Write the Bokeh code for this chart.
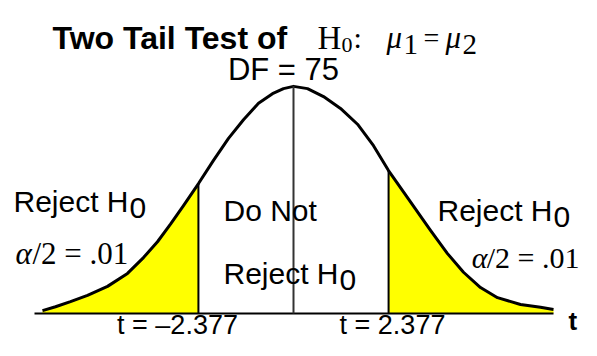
import numpy as np
from bokeh.plotting import figure
from bokeh.models import Range1d, Label
from bokeh.embed import file_html
from bokeh.resources import INLINE

# Curve (t units, relative density)
t_vals = [-6.275, -5.95, -5.575, -5.15, -4.65, -4.15, -3.75, -3.40, -3.075, -2.75,
          -2.375, -2.00, -1.625, -1.25, -0.875, -0.525, -0.25, 0.0, 0.35, 0.75,
          1.175, 1.60, 2.00, 2.375, 2.85, 3.425, 3.85, 4.25, 4.675, 5.10,
          5.675, 6.175, 6.50]
dens_vals = [0.005, 0.012, 0.021, 0.032, 0.048, 0.071, 0.099, 0.127, 0.158, 0.191,
             0.230, 0.271, 0.310, 0.343, 0.372, 0.389, 0.398, 0.402, 0.398, 0.384,
             0.363, 0.335, 0.297, 0.253, 0.205, 0.147, 0.106, 0.073, 0.046, 0.028,
             0.016, 0.011, 0.007]
t_crit = 2.377
df = 75
axis_start, axis_end = -6.475, 6.5

t = np.array(t_vals)
d = np.array(dens_vals)

W, H = 581, 340
XPX, YPX = 40.0, 565.0           # pixels per data unit
X_ORIGIN, Y_ORIGIN = 293, 313     # canvas pixel of t=0, density=0
x_lo = (0 - X_ORIGIN) / XPX
x_hi = (W - X_ORIGIN) / XPX
y_hi = (Y_ORIGIN - 0) / YPX
y_lo = (Y_ORIGIN - H) / YPX

p = figure(width=W, height=H, output_backend="svg", toolbar_location=None,
           x_range=Range1d(x_lo, x_hi), y_range=Range1d(y_lo, y_hi),
           x_axis_location=None, y_axis_location=None, min_border=0)
p.grid.visible = False
p.outline_line_color = None
p.background_fill_color = "white"
p.border_fill_color = "white"

yl = float(np.interp(-t_crit, t, d))
yr = float(np.interp(t_crit, t, d))
ypk = float(np.interp(0.0, t, d))

# shaded tails
mL = t <= -t_crit
xs_l = list(t[mL]) + [-t_crit, -t_crit, t[0]]
ys_l = list(d[mL]) + [yl, 0.0, 0.0]
mR = t >= t_crit
xs_r = [t_crit] + list(t[mR]) + [t[-1], t_crit]
ys_r = [yr] + list(d[mR]) + [0.0, 0.0]
p.patch(xs_l, ys_l, fill_color="#ffff00", line_color=None)
p.patch(xs_r, ys_r, fill_color="#ffff00", line_color=None)

# baseline, curve, vertical lines
p.line([axis_start, axis_end], [0, 0], line_color="black", line_width=2)
p.line(t, d, line_color="black", line_width=3, line_join="round")
p.segment(x0=[-t_crit, t_crit], y0=[0, 0], x1=[-t_crit, t_crit], y1=[yl, yr],
          line_color="black", line_width=2)
p.segment(x0=[0], y0=[0], x1=[0], y1=[ypk], line_color="#333333", line_width=2)

SANS = "Liberation Sans"
SERIF = "Liberation Serif"

def lab(text, px, py, size, font=SANS, style="normal", align="left", base="alphabetic"):
    p.add_layout(Label(x=(px - X_ORIGIN) / XPX, y=(Y_ORIGIN - py) / YPX,
                       text=text, text_font=font, text_font_size=f"{size}px",
                       text_font_style=style, text_align=align,
                       text_baseline=base, text_color="black"))

# title
lab("Two Tail Test of", 52, 37, 32, style="bold")
lab("H", 317, 37, 33, font=SERIF)
lab("0", 341, 44, 22, font=SERIF)
lab(":", 353, 37, 30, font=SERIF)
lab("μ", 386, 37, 31, font=SERIF, style="italic")
lab("1", 403, 44, 29, font=SERIF)
lab("=", 423, 37, 28, font=SERIF)
lab("μ", 445, 37, 31, font=SERIF, style="italic")
lab("2", 462, 44, 29, font=SERIF)
lab(f"DF = {df}", 283, 69, 31, align="center")

# region labels
lab("Reject H", 13, 201, 30)
lab("0", 129, 207, 30)
lab("α", 15, 253, 31, font=SERIF, style="italic")
lab("/2 = .01", 32, 253, 31, font=SERIF)

lab("Do Not", 223, 210, 30)
lab("Reject H", 223, 273, 30)
lab("0", 339, 279, 30)

lab("Reject H", 437, 210, 30)
lab("0", 553, 216, 30)
lab("/2 = .01", 579, 257, 30, font=SERIF, align="right")
lab("α", 487, 257, 30, font=SERIF, style="italic", align="right")

lab(f"t = \u2013{t_crit}", 177, 339, 27, align="center", base="bottom")
lab(f"t = {t_crit}", 392, 339, 27, align="center", base="bottom")
lab("t", 568, 320, 26, style="bold")

open("out.html", "w").write(file_html(p, INLINE))
